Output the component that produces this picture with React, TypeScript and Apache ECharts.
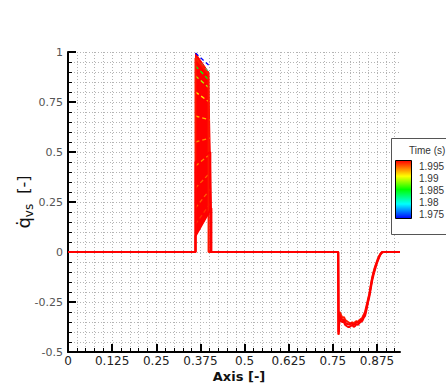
import React, { useEffect, useRef } from "react";
import * as echarts from "echarts";

const FONT = "DejaVu Sans";
const LEGEND_FONT = "Liberation Sans";

// axes
const X_MIN = 0;
const X_MAX = 0.94;
const xMajorTicks = [0, 0.125, 0.25, 0.375, 0.5, 0.625, 0.75, 0.875];
const xMinorTicks = Array.from({ length: 38 }, (_, i) => +(i * 0.025).toFixed(3));
const Y_MIN = -0.5;
const Y_MAX = 1;
const Y_STEP = 0.25;

// colour legend (time)
const legendTimes = [1.995, 1.99, 1.985, 1.98, 1.975];
const TIME_MIN = 1.975;
const TIME_MAX = 1.995;

// dense family of pulse lines (envelope of all time steps)
const bandX = [0.361, 0.361, 0.398, 0.406];
const bandY = [0.08, 0.995, 0.9, 0.22];

// individual earlier time-step pulses visible inside the envelope
const streakTimes = [1.975, 1.982, 1.985, 1.988, 1.99, 1.991, 1.992, 1.992, 1.993, 1.993, 1.994];
const streakStart = [0.995, 0.97, 0.93, 0.88, 0.8, 0.68, 0.55, 0.43, 0.32, 0.22, 0.14];
const streakEnd = [0.935, 0.9, 0.86, 0.82, 0.75, 0.66, 0.57, 0.49, 0.4, 0.32, 0.25];
const streakEndX = [0.398, 0.398, 0.399, 0.4, 0.4, 0.401, 0.402, 0.403, 0.404, 0.405, 0.406];
const pulseX0 = 0.361;

// final time steps (full profiles)
const finalTimes = [1.9945, 1.995, 1.995];
const finalPulseStart = [0.97, 0.45, 0.08];
const finalPulseEnd = [0.89, 0.5, 0.22];
const finalPulseEndX = [0.398, 0.403, 0.406];

const dipX = [0.765, 0.766, 0.769, 0.773, 0.777, 0.781, 0.785, 0.789, 0.793, 0.797, 0.801, 0.805, 0.809, 0.813, 0.817, 0.821, 0.825, 0.829, 0.833, 0.837, 0.841, 0.845, 0.849, 0.853, 0.857, 0.861, 0.865, 0.869, 0.873, 0.877, 0.881, 0.885, 0.889, 0.893];
const dipYA = [0, -0.415, -0.3, -0.315, -0.33, -0.325, -0.34, -0.345, -0.35, -0.355, -0.36, -0.35, -0.36, -0.35, -0.345, -0.35, -0.34, -0.335, -0.33, -0.315, -0.3, -0.27, -0.24, -0.21, -0.17, -0.13, -0.1, -0.075, -0.055, -0.035, -0.02, -0.008, 0, 0];
const dipYC = [0, -0.41, -0.315, -0.33, -0.34, -0.34, -0.35, -0.36, -0.36, -0.365, -0.355, -0.36, -0.365, -0.36, -0.35, -0.355, -0.35, -0.34, -0.34, -0.32, -0.31, -0.28, -0.25, -0.215, -0.175, -0.135, -0.105, -0.08, -0.06, -0.04, -0.023, -0.01, -0.002, 0];
const dipYB = [0, -0.4, -0.33, -0.345, -0.35, -0.35, -0.365, -0.37, -0.375, -0.375, -0.37, -0.365, -0.375, -0.37, -0.36, -0.365, -0.355, -0.35, -0.345, -0.33, -0.32, -0.29, -0.255, -0.225, -0.185, -0.145, -0.115, -0.09, -0.065, -0.045, -0.027, -0.012, -0.003, 0];
const finalDips = [dipYA, dipYC, dipYB];

// rainbow colormap
const cmapStops: [number, number[]][] = [
  [0, [0, 0, 255]],
  [0.25, [0, 255, 255]],
  [0.5, [0, 255, 0]],
  [0.73, [255, 255, 0]],
  [1, [255, 0, 0]],
];
function fracColor(f: number): string {
  const v = Math.max(0, Math.min(1, f));
  for (let i = 1; i < cmapStops.length; i++) {
    const [f1, c1] = cmapStops[i];
    const [f0, c0] = cmapStops[i - 1];
    if (v <= f1) {
      const k = (v - f0) / (f1 - f0);
      const c = c0.map((a, j) => Math.round(a + (c1[j] - a) * k));
      return `rgb(${c[0]},${c[1]},${c[2]})`;
    }
  }
  return "rgb(255,0,0)";
}
const timeColor = (t: number) => fracColor((t - TIME_MIN) / (TIME_MAX - TIME_MIN));

export default function App() {
  const ref = useRef<HTMLDivElement>(null);

  useEffect(() => {
    if (!ref.current) return;
    const chart = echarts.init(ref.current, undefined, { renderer: "svg" });

    const gridLine = { color: "#b4b4b4", width: 1, type: [1, 2] as any };

    const series: any[] = [];

    series.push({
      type: "custom",
      xAxisIndex: 0,
      yAxisIndex: 0,
      silent: true,
      z: 2,
      data: [[bandX[0], bandY[0]]],
      renderItem: (_params: any, api: any) => {
        const pts = bandX.map((x, i) => api.coord([x, bandY[i]]));
        const col = timeColor(1.995);
        return {
          type: "polygon",
          shape: { points: pts },
          style: { fill: col, stroke: col, lineWidth: 1 },
        };
      },
    });

    streakTimes.forEach((t, i) => {
      series.push({
        type: "line",
        xAxisIndex: 0,
        yAxisIndex: 0,
        symbol: "none",
        silent: true,
        z: 3,
        lineStyle: { color: timeColor(t), width: 1.3, type: [4, 3] },
        data: [
          [pulseX0, streakStart[i]],
          [streakEndX[i], streakEnd[i]],
        ],
      });
    });

    finalTimes.forEach((t, i) => {
      const data: number[][] = [
        [X_MIN, 0],
        [pulseX0, 0],
        [pulseX0, finalPulseStart[i]],
        [finalPulseEndX[i], finalPulseEnd[i]],
        [finalPulseEndX[i], 0],
      ];
      dipX.forEach((x, j) => data.push([x, finalDips[i][j]]));
      data.push([X_MAX, 0]);
      series.push({
        type: "line",
        xAxisIndex: 0,
        yAxisIndex: 0,
        symbol: "none",
        silent: true,
        z: 4,
        lineStyle: { color: timeColor(t), width: 2 },
        data,
      });
    });

    const legendTop = 166;
    const legendBottom = 214;
    const tToY = (t: number) =>
      legendTop + ((TIME_MAX - t) / (TIME_MAX - TIME_MIN)) * (legendBottom - legendTop);
    const gradStops = cmapStops
      .map(([f, c]) => ({ offset: 1 - f, color: `rgb(${c[0]},${c[1]},${c[2]})` }))
      .sort((a, b) => a.offset - b.offset);

    const graphic: any[] = [
      {
        type: "rect",
        z: 100,
        shape: { x: 391.5, y: 138.5, width: 70, height: 96 },
        style: { fill: "#fff", stroke: "#555", lineWidth: 1 },
      },
      {
        type: "text",
        z: 101,
        x: 409,
        y: 150,
        style: {
          text: "Time (s)",
          font: `10px "${LEGEND_FONT}"`,
          fill: "#333",
          verticalAlign: "middle",
          align: "left",
        },
      },
      {
        type: "rect",
        z: 101,
        shape: { x: 395.5, y: 160.5, width: 16, height: 58 },
        style: {
          fill: new echarts.graphic.LinearGradient(0, 0, 0, 1, gradStops),
          stroke: "#000",
          lineWidth: 1,
        },
      },
      ...legendTimes.map((t) => ({
        type: "text",
        z: 101,
        x: 419,
        y: tToY(t),
        style: {
          text: String(t),
          font: `10px "${LEGEND_FONT}"`,
          fill: "#333",
          verticalAlign: "middle",
          align: "left",
        },
      })),
    ];

    chart.setOption({
      animation: false,
      backgroundColor: "#fff",
      grid: {
        left: 68,
        right: 46,
        top: 52,
        bottom: 35,
        containLabel: false,
        outerBoundsMode: "none",
      },
      xAxis: [
        {
          type: "value",
          min: X_MIN,
          max: X_MAX,
          position: "bottom",
          axisLine: { show: true, onZero: false, lineStyle: { color: "#000", width: 2 } },
          axisTick: {
            show: true,
            inside: true,
            length: 4,
            customValues: xMinorTicks,
            lineStyle: { color: "#000", width: 1 },
          },
          splitLine: { show: true, lineStyle: gridLine },
          axisLabel: { show: false },
        },
        {
          type: "value",
          min: X_MIN,
          max: X_MAX,
          position: "bottom",
          axisLine: { show: false, onZero: false },
          axisTick: {
            show: true,
            inside: true,
            length: 8,
            customValues: xMajorTicks,
            lineStyle: { color: "#000", width: 2 },
          },
          splitLine: { show: false },
          axisLabel: {
            show: true,
            customValues: xMajorTicks,
            color: "#222",
            fontSize: 12,
            fontFamily: FONT,
            margin: 3,
          },
          name: "Axis [-]",
          nameLocation: "middle",
          nameGap: 18,
          nameMoveOverlap: false,
          nameTextStyle: {
            fontFamily: FONT,
            fontSize: 13,
            fontWeight: "bold",
            color: "#111",
            padding: [0, 0, 0, 10],
          },
        },
      ],
      yAxis: {
        type: "value",
        min: Y_MIN,
        max: Y_MAX,
        interval: Y_STEP,
        axisLine: { show: true, onZero: false, lineStyle: { color: "#000", width: 2 } },
        axisTick: { show: true, inside: true, length: 8, lineStyle: { color: "#000", width: 2 } },
        minorTick: { show: true, splitNumber: 5, length: 4, lineStyle: { color: "#000", width: 1 } },
        splitLine: { show: true, lineStyle: gridLine },
        minorSplitLine: { show: true, lineStyle: gridLine },
        axisLabel: { color: "#555", fontSize: 11, fontFamily: FONT, margin: 5 },
        name: "{q|q\u0307}{s|vs}{b|  [-]}",
        nameLocation: "middle",
        nameRotate: 90,
        nameGap: 33,
        nameMoveOverlap: false,
        nameTextStyle: {
          fontFamily: FONT,
          color: "#111",
          rich: {
            q: { fontSize: 18, fontFamily: FONT, color: "#111", lineHeight: 24, verticalAlign: "middle" },
            s: { fontSize: 12, fontFamily: FONT, color: "#111", lineHeight: 12, verticalAlign: "bottom" },
            b: { fontSize: 16, fontFamily: FONT, color: "#111", lineHeight: 24, verticalAlign: "middle" },
          },
        },
      },
      graphic,
      series,
    });

    return () => chart.dispose();
  }, []);

  return (
    <div
      ref={ref}
      style={{ position: "fixed", left: 0, top: 0, width: 446, height: 387 }}
    />
  );
}
